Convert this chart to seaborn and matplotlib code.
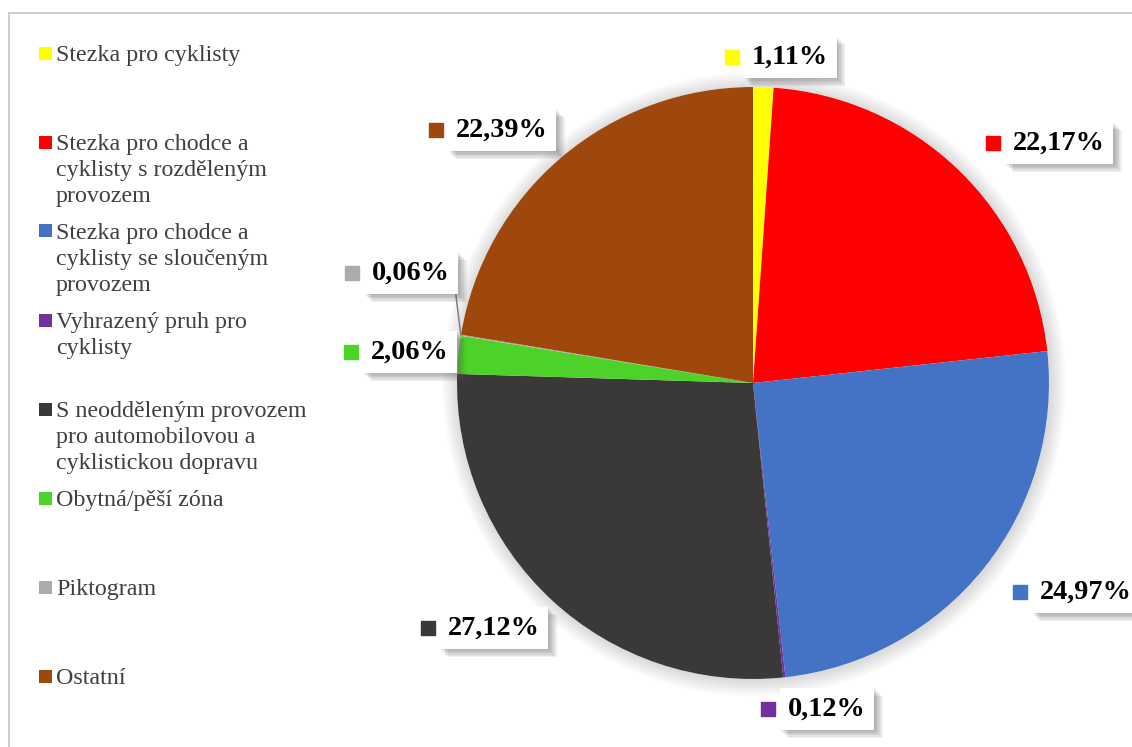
import numpy as np
import matplotlib
matplotlib.use("Agg")
import matplotlib.pyplot as plt
import seaborn as sns
from matplotlib import patheffects
from matplotlib.patches import Rectangle, Circle

categories = [
    "Stezka pro cyklisty",
    "Stezka pro chodce a\ncyklisty s rozděleným\nprovozem",
    "Stezka pro chodce a\ncyklisty se sloučeným\nprovozem",
    "Vyhrazený pruh pro\ncyklisty",
    "S neodděleným provozem\npro automobilovou a\ncyklistickou dopravu",
    "Obytná/pěší zóna",
    "Piktogram",
    "Ostatní",
]
shares = [1.11, 22.17, 24.97, 0.12, 27.12, 2.06, 0.06, 22.39]
colors = ["#FFFF00", "#FF0000", "#4472C4", "#7030A0",
          "#3B3838", "#4DD22A", "#AEAAAA", "#9E480E"]

# marker centres of the value labels, in pie-radius units
label_pos = [(-0.071, 1.101), (0.811, 0.811), (0.902, -0.706), (0.051, -1.101),
             (-1.098, -0.828), (-1.358, 0.105), (-1.355, 0.372), (-1.071, 0.855)]

sns.set_theme(style="white")
plt.rcParams["font.family"] = ["Liberation Serif", "DejaVu Serif"]

W, H = 1132, 747
fig = plt.figure(figsize=(W / 100, H / 100), dpi=100)
fig.patch.set_facecolor("white")

# chart frame
fig.patches.append(Rectangle((9 / W, -0.1), 1.2, 1.1 - 13 / H, transform=fig.transFigure,
                             fill=False, edgecolor="#C9C9C9", linewidth=1.3))

# axes spanning the figure, 1 unit = pie radius, centre at (753, 383) px
cx, cy, r = 753, 383, 296
ax = fig.add_axes([0, 0, 1, 1])

# soft glow around the pie
for k in range(1, 13):
    ax.add_patch(Circle((0.004, -0.004), 1 + 0.0045 * k, color="#808080",
                        alpha=0.022, linewidth=0, zorder=0))
ax.add_patch(Circle((0, 0), 1.0, color="white", zorder=0.5, linewidth=0))

wedges, _ = ax.pie(shares, colors=colors, startangle=90, counterclock=False,
                   radius=1, center=(0, 0), frame=True,
                   wedgeprops=dict(linewidth=0))
for w in wedges:
    w.set_zorder(1)
ax.set_xlim(-cx / r, (W - cx) / r)
ax.set_ylim(-(H - cy) / r, cy / r)
ax.set_aspect("equal")
ax.axis("off")

# leader line for the thinnest slice
wg = wedges[6]
mid = np.deg2rad((wg.theta1 + wg.theta2) / 2)
ax.plot([np.cos(mid), -1.01], [np.sin(mid), 0.348], color="#7F7F7F",
        linewidth=1.1, zorder=2, clip_on=False)

# blurred drop shadow built from stacked, faint offset copies
shadow = [patheffects.SimplePatchShadow(offset=(d, -d), shadow_rgbFace="#555555", alpha=0.09)
          for d in (1, 2, 3, 4, 5, 6)] + [patheffects.Normal()]

for val, col, (lx, ly) in zip(shares, colors, label_pos):
    ax.plot(lx, ly, marker="s", markersize=10, color=col, linestyle="none",
            zorder=5, clip_on=False)
    t = ax.annotate(f"{val:.2f}%".replace(".", ","), xy=(lx, ly), xytext=(20, 0),
                    textcoords="offset pixels", ha="left", va="center",
                    fontsize=20.3, fontweight="bold", color="black", zorder=6,
                    bbox=dict(boxstyle="square,pad=0.3", facecolor="white",
                              edgecolor="none"))
    t.get_bbox_patch().set_path_effects(shadow)

# legend, one evenly spaced slot per category
for i, (name, col) in enumerate(zip(categories, colors)):
    yc = 53 + i * 89
    fig.patches.append(Rectangle((39 / W, 1 - (yc + 6.5) / H), 13 / W, 13 / H,
                                 transform=fig.transFigure, facecolor=col,
                                 edgecolor="none"))
    fig.text(56 / W, 1 - (yc - 8) / H, name, ha="left", va="top",
             fontsize=17.3, color="#404040", linespacing=1.3)

fig.savefig("out.png", dpi=100, facecolor="white")
